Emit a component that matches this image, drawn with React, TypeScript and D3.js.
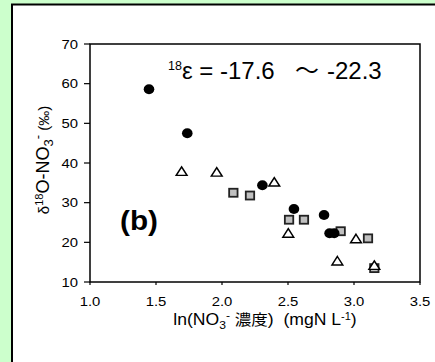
import * as d3 from 'd3';

// data
const circleX = [1.447, 1.737, 2.306, 2.545, 2.773, 2.815, 2.85];
const circleY = [58.6, 47.5, 34.4, 28.4, 26.9, 22.3, 22.3];

const triangleX = [1.694, 1.96, 2.396, 2.502, 2.874, 3.015, 3.154];
const triangleY = [37.6, 37.4, 34.9, 22.0, 15.0, 20.6, 13.9];

const squareX = [2.086, 2.212, 2.508, 2.621, 2.899, 3.106, 3.154];
const squareY = [32.5, 31.8, 25.7, 25.7, 22.8, 21.0, 13.5];

const xTicks = [1.0, 1.5, 2.0, 2.5, 3.0, 3.5];
const yTicks = [10, 20, 30, 40, 50, 60, 70];

const font = '"Liberation Sans", Arial, sans-serif';
const cjk = '"Noto Sans CJK JP", sans-serif';

// the original picture is a bit wider than tall, text looks stretched
const sx = 1.1;

export default function App() {
  const margin = { left: 90, top: 44, right: 420, bottom: 282 };

  const x = d3.scaleLinear().domain([1.0, 3.5]).range([margin.left, margin.right]);
  const y = d3.scaleLinear().domain([10, 70]).range([margin.bottom, margin.top]);

  const tri = d3.symbol().type(d3.symbolTriangle).size(42)();

  return (
    <svg
      width={435}
      height={362}
      style={{ position: 'absolute', left: 0, top: 0, display: 'block' }}
      fontFamily={font}
    >
      <rect x={0} y={0} width={435} height={362} fill="#ccffcc" />
      <rect x={12} y={4.5} width={440} height={370} fill="#ffffff" stroke="#000" strokeWidth={2} />

      {/* plot frame */}
      <rect
        x={margin.left}
        y={margin.top}
        width={margin.right - margin.left}
        height={margin.bottom - margin.top}
        fill="none"
        stroke="#000"
        strokeWidth={1.5}
      />

      {/* y ticks */}
      {yTicks.map((t) => (
        <g key={'y' + t}>
          <line x1={84} x2={margin.left} y1={y(t)} y2={y(t)} stroke="#000" strokeWidth={1.2} />
          <text
            transform={`translate(78,${y(t)}) scale(${sx},1)`}
            dy="0.35em"
            textAnchor="end"
            fontSize={13.5}
            fill="#000"
          >
            {t}
          </text>
        </g>
      ))}

      {/* x ticks */}
      {xTicks.map((t) => (
        <g key={'x' + t}>
          <line x1={x(t)} x2={x(t)} y1={margin.bottom} y2={margin.bottom + 3} stroke="#000" strokeWidth={1.2} />
          <text
            transform={`translate(${x(t)},305.5) scale(${sx},1)`}
            textAnchor="middle"
            fontSize={13.5}
            fill="#000"
          >
            {t.toFixed(1)}
          </text>
        </g>
      ))}

      {/* markers */}
      {squareX.map((v, i) => (
        <rect
          key={'s' + i}
          x={x(v) - 4.2}
          y={y(squareY[i]) - 4}
          width={8.4}
          height={8}
          fill="#c0c0c0"
          stroke="#222"
          strokeWidth={1.8}
        />
      ))}
      {triangleX.map((v, i) => (
        <path
          key={'t' + i}
          d={tri}
          transform={`translate(${x(v)},${y(triangleY[i])}) scale(1.1,1)`}
          fill="#fff"
          stroke="#000"
          strokeWidth={1.4}
        />
      ))}
      {circleX.map((v, i) => (
        <ellipse key={'c' + i} cx={x(v)} cy={y(circleY[i])} rx={5.3} ry={5} fill="#000" />
      ))}

      {/* annotation */}
      <text x={168} y={79} fontSize={24} fill="#000">
        <tspan fontSize={12.5} dy={-9}>18</tspan>
        <tspan dy={9}>ε = -17.6</tspan>
      </text>
      <text x={307} y={79} fontSize={24} textAnchor="middle" fontFamily={cjk} fill="#000">
        ～
      </text>
      <text x={327} y={79} fontSize={24} fill="#000">
        -22.3
      </text>

      <text transform={`translate(120,230) scale(${sx},1)`} fontSize={27} fontWeight="bold" fill="#000">
        (b)
      </text>

      {/* x title */}
      <text
        transform={`translate(265,325) scale(1.1,1)`}
        textAnchor="middle"
        fontSize={16}
        fill="#000"
      >
        <tspan>ln(NO</tspan>
        <tspan fontSize={11} dy={4}>3</tspan>
        <tspan fontSize={11} dy={-10}>-</tspan>
        <tspan dy={6}>{'\u00a0'}</tspan>
        <tspan fontFamily={cjk} fontSize={15}>濃度</tspan>
        <tspan>{')\u00a0\u00a0(mgN L'}</tspan>
        <tspan fontSize={10} dy={-5}>-1</tspan>
        <tspan dy={5}>)</tspan>
      </text>

      {/* y title */}
      <text
        transform="translate(49,160) rotate(-90)"
        textAnchor="middle"
        fontSize={18}
        fill="#000"
      >
        <tspan fontSize={15}>δ</tspan>
        <tspan fontSize={11} dy={-6}>18</tspan>
        <tspan dy={6}>O-NO</tspan>
        <tspan fontSize={13} dy={4}>3</tspan>
        <tspan fontSize={13} dy={-11}>-</tspan>
        <tspan fontSize={15} dy={7}>{'\u00a0(‰)'}</tspan>
      </text>
    </svg>
  );
}
